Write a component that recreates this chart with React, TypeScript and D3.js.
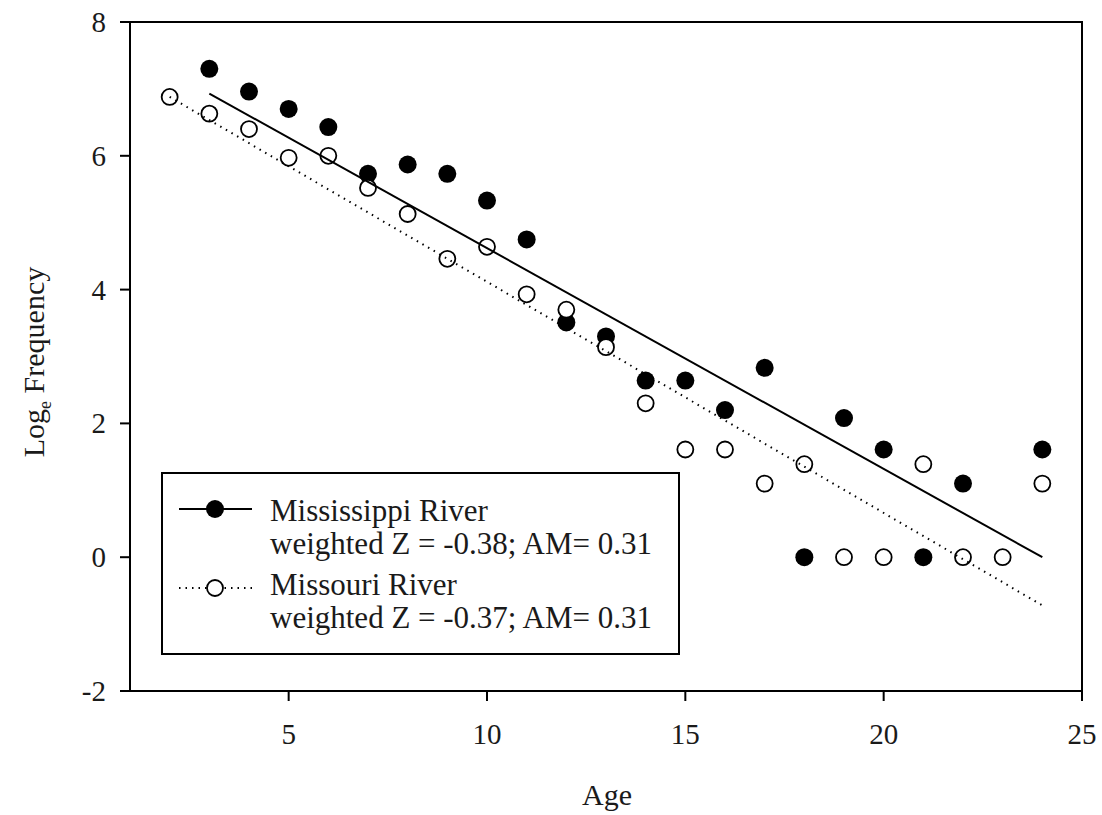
import React from "react";
import * as d3 from "d3";

// Age classes and log-transformed catch frequencies
const msAges = [3, 4, 5, 6, 7, 8, 9, 10, 11, 12, 13, 14, 15, 16, 17, 18, 19, 20, 21, 22, 24];
const msLogFreq = [7.3, 6.96, 6.7, 6.43, 5.73, 5.87, 5.73, 5.33, 4.75, 3.51, 3.3, 2.64, 2.64, 2.2, 2.83, 0, 2.08, 1.61, 0, 1.1, 1.61];

const moAges = [2, 3, 4, 5, 6, 7, 8, 9, 10, 11, 12, 13, 14, 15, 16, 17, 18, 19, 20, 21, 22, 23, 24];
const moLogFreq = [6.88, 6.63, 6.4, 5.97, 6.0, 5.52, 5.13, 4.46, 4.64, 3.93, 3.7, 3.14, 2.3, 1.61, 1.61, 1.1, 1.39, 0, 0, 1.39, 0, 0, 1.1];

// Fitted catch-curve lines: [start age, end age] and predicted values
const msFitAges = [3, 24];
const msFitValues = [6.93, 0.0];
const moFitAges = [2, 24];
const moFitValues = [6.88, -0.72];

const xTicks = [5, 10, 15, 20, 25];
const yTicks = [-2, 0, 2, 4, 6, 8];

const legendLines = [
  "Mississippi River",
  "weighted Z = -0.38; AM= 0.31",
  "Missouri River",
  "weighted Z = -0.37; AM= 0.31",
];
const legendBaselines = [521, 554, 595, 628];

const W = 1102;
const H = 815;
const left = 130;
const right = 1082;
const top = 22;
const bottom = 691;
const font = "'Liberation Serif', 'Times New Roman', serif";
const ink = "#1a1a1a";

export default function App() {
  const x = d3.scaleLinear().domain([1, 25]).range([left, right]);
  const y = d3.scaleLinear().domain([-2, 8]).range([bottom, top]);
  const line = d3
    .line<[number, number]>()
    .x((d) => x(d[0]))
    .y((d) => y(d[1]));

  const msFit: [number, number][] = msFitAges.map((a, i) => [a, msFitValues[i]]);
  const moFit: [number, number][] = moFitAges.map((a, i) => [a, moFitValues[i]]);

  const lgX = 162;
  const lgY = 473;
  const lgW = 517;
  const lgH = 181;

  return (
    <svg
      width={W}
      height={H}
      style={{ position: "absolute", left: 0, top: 0, background: "#fff" }}
      fontFamily={font}
    >
      {/* frame */}
      <rect x={left} y={top} width={right - left} height={bottom - top} fill="none" stroke="#000" strokeWidth={2} />

      {/* y ticks */}
      {yTicks.map((t) => (
        <g key={"y" + t}>
          <line x1={left - 10} x2={left} y1={y(t)} y2={y(t)} stroke="#000" strokeWidth={2} />
          <text x={left - 24} y={y(t) + 10} textAnchor="end" fontSize={29} fill={ink}>
            {t}
          </text>
        </g>
      ))}

      {/* x ticks */}
      {xTicks.map((t) => (
        <g key={"x" + t}>
          <line x1={x(t)} x2={x(t)} y1={bottom} y2={bottom + 10} stroke="#000" strokeWidth={2} />
          <text x={x(t)} y={744} textAnchor="middle" fontSize={29} fill={ink}>
            {t}
          </text>
        </g>
      ))}

      {/* axis titles */}
      <text x={607} y={805} textAnchor="middle" fontSize={30} fill={ink}>
        Age
      </text>
      <text transform="translate(44, 362) rotate(-90)" textAnchor="middle" fontSize={30} fill={ink}>
        Log
        <tspan fontSize={18} dy={7}>e</tspan>
        <tspan dy={-7}> Frequency</tspan>
      </text>

      {/* Mississippi River points */}
      {msAges.map((a, i) => (
        <circle key={"ms" + a} cx={x(a)} cy={y(msLogFreq[i])} r={9} fill="#000" />
      ))}

      {/* Missouri River points */}
      {moAges.map((a, i) => (
        <circle key={"mo" + a} cx={x(a)} cy={y(moLogFreq[i])} r={8} fill="#fff" stroke="#000" strokeWidth={1.8} />
      ))}

      {/* regression lines */}
      <path d={line(msFit) ?? ""} fill="none" stroke="#000" strokeWidth={2} />
      <path d={line(moFit) ?? ""} fill="none" stroke="#000" strokeWidth={2} strokeDasharray="1.5 5" />

      {/* legend */}
      <rect x={lgX} y={lgY} width={lgW} height={lgH} fill="#fff" stroke="#000" strokeWidth={2} />
      <line x1={179} x2={252} y1={509} y2={509} stroke="#000" strokeWidth={2} />
      <circle cx={215} cy={509} r={9} fill="#000" />
      <line x1={179} x2={252} y1={588} y2={588} stroke="#000" strokeWidth={2} strokeDasharray="1.5 5" />
      <circle cx={215} cy={588} r={8} fill="#fff" stroke="#000" strokeWidth={1.8} />
      {legendLines.map((s, i) => (
        <text key={s} x={270} y={legendBaselines[i]} fontSize={31} fill={ink}>
          {s}
        </text>
      ))}
    </svg>
  );
}
